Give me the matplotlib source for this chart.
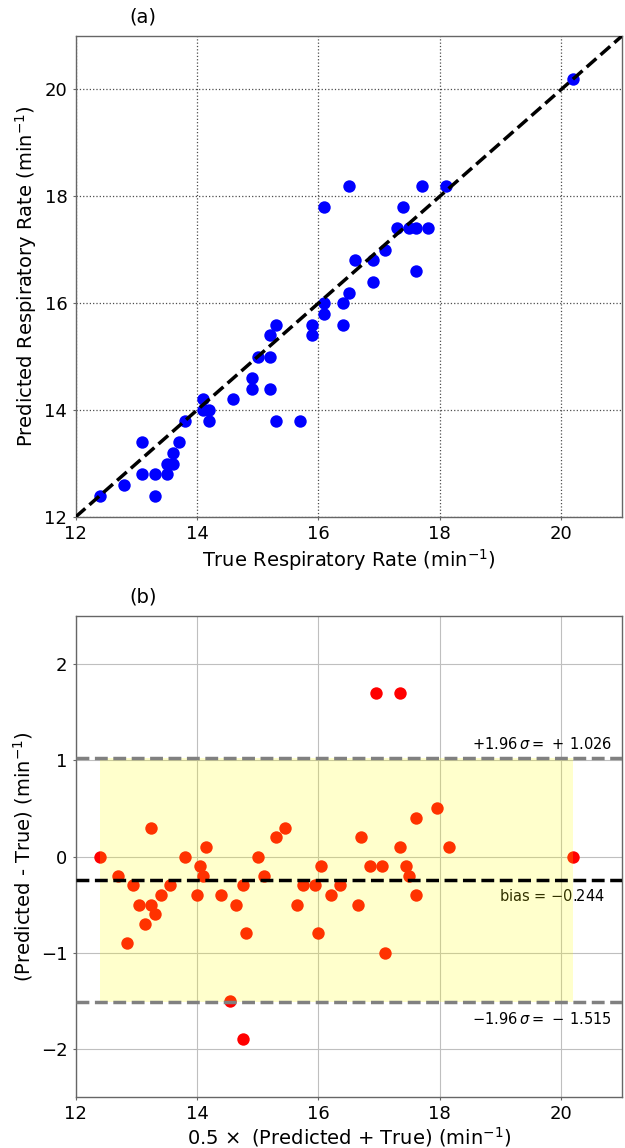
import matplotlib
matplotlib.use("Agg")
import matplotlib.pyplot as plt
import numpy as np

# reference (true) and estimated respiratory rates, min^-1
true_rr = [12.4, 12.8, 13.3, 13.1, 13.3, 13.5, 13.1, 13.5, 13.6, 13.6,
           13.7, 13.8, 14.2, 14.1, 14.2, 14.1, 14.6, 15.3, 14.9, 14.9,
           15.7, 15.2, 15.0, 15.2, 15.2, 15.3, 15.9, 15.9, 16.1, 16.4,
           16.1, 16.4, 16.5, 16.1, 16.5, 17.7, 17.4, 16.6, 17.3, 18.1,
           20.2, 16.9, 17.1, 17.5, 17.6, 17.8, 16.9, 17.6]
pred_rr = [12.4, 12.6, 12.4, 12.8, 12.8, 12.8, 13.4, 13.0, 13.0, 13.2,
           13.4, 13.8, 13.8, 14.0, 14.0, 14.2, 14.2, 13.8, 14.4, 14.6,
           13.8, 14.4, 15.0, 15.0, 15.4, 15.6, 15.4, 15.6, 15.8, 15.6,
           16.0, 16.0, 16.2, 17.8, 18.2, 18.2, 17.8, 16.8, 17.4, 18.2,
           20.2, 16.8, 17.0, 17.4, 17.4, 17.4, 16.4, 16.6]

# Bland-Altman statistics
bias = -0.244
loa_upper = 1.026
loa_lower = -1.515

rr_ticks = [12, 14, 16, 18, 20]
diff_ticks = [-2, -1, 0, 1, 2]

true_rr = np.array(true_rr)
pred_rr = np.array(pred_rr)
mean_rr = 0.5 * (pred_rr + true_rr)
diff_rr = pred_rr - true_rr

FS = 14
TFS = 13

fig = plt.figure(figsize=(6.25, 11.48), dpi=100)
ax1 = fig.add_axes([0.121, 0.5497, 0.874, 0.4189])
ax2 = fig.add_axes([0.121, 0.0444, 0.874, 0.419])

for ax in (ax1, ax2):
    for s in ax.spines.values():
        s.set_color('0.4')
        s.set_linewidth(1.0)
    ax.tick_params(length=2.5, width=0.8, color='0.4', pad=3.5, labelsize=TFS)
    ax.set_axisbelow(True)

# (a) predicted vs true
ax1.scatter(true_rr, pred_rr, s=80, color='blue', zorder=3, linewidths=0)
ax1.plot([12, 21], [12, 21], 'k--', lw=2.5, zorder=4)
ax1.set_xlim(12, 21)
ax1.set_ylim(12, 21)
ax1.set_xticks(rr_ticks)
ax1.set_yticks(rr_ticks)
ax1.grid(True, linestyle=':', color='0.3', lw=0.9)
ax1.set_xlabel('True Respiratory Rate (min$^{-1}$)', fontsize=FS, labelpad=3)
ax1.set_ylabel('Predicted Respiratory Rate (min$^{-1}$)', fontsize=FS)
ax1.text(0.124, 1.02, '(a)', transform=ax1.transAxes, ha='center', va='bottom', fontsize=FS)

# (b) Bland-Altman
ax2.scatter(mean_rr, diff_rr, s=80, color='red', zorder=3, linewidths=0)
ax2.fill_between([mean_rr.min(), mean_rr.max()], loa_lower, loa_upper,
                 color='yellow', alpha=0.2, lw=0, zorder=4)
ax2.axhline(bias, color='k', ls='--', lw=2.5, zorder=5)
ax2.axhline(loa_upper, color='gray', ls='--', lw=2.5, zorder=5)
ax2.axhline(loa_lower, color='gray', ls='--', lw=2.5, zorder=5)
ax2.set_xlim(12, 21)
ax2.set_ylim(-2.5, 2.5)
ax2.set_xticks(rr_ticks)
ax2.set_yticks(diff_ticks)
ax2.grid(True, color='0.75', lw=0.8)
ax2.set_xlabel(r'$0.5\,\times$ (Predicted + True) (min$^{-1}$)', fontsize=FS, labelpad=1)
ax2.set_ylabel('(Predicted - True) (min$^{-1}$)', fontsize=FS)
ax2.text(0.124, 1.02, '(b)', transform=ax2.transAxes, ha='center', va='bottom', fontsize=FS)

ax2.annotate(r'$+1.96\,\sigma =\,+\,%.3f$' % loa_upper, xy=(1, loa_upper),
             xycoords=('axes fraction', 'data'), xytext=(-7, 4),
             textcoords='offset points', ha='right', va='bottom', fontsize=10.5)
ax2.annotate(r'bias = $%.3f$' % bias, xy=(1, bias),
             xycoords=('axes fraction', 'data'), xytext=(-12, -6),
             textcoords='offset points', ha='right', va='top', fontsize=10.5)
ax2.annotate(r'$-1.96\,\sigma =\,-\,%.3f$' % abs(loa_lower), xy=(1, loa_lower),
             xycoords=('axes fraction', 'data'), xytext=(-7, -6),
             textcoords='offset points', ha='right', va='top', fontsize=10.5)

fig.savefig('out.png', dpi=100)
